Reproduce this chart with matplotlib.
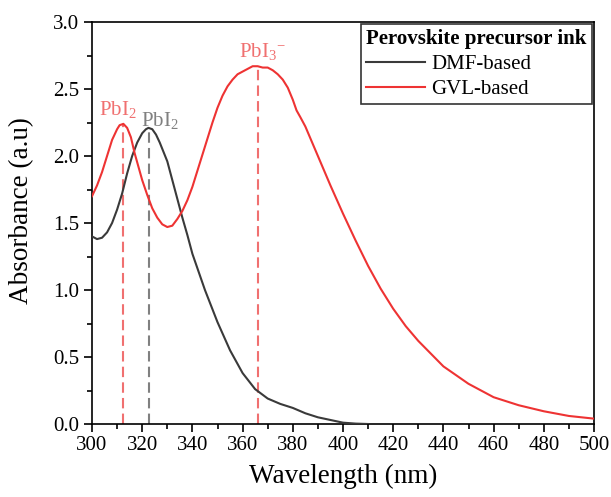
import matplotlib
matplotlib.use("Agg")
import matplotlib.pyplot as plt
from matplotlib.ticker import MultipleLocator

plt.rcParams['font.family'] = ['Liberation Serif', 'DejaVu Serif']
plt.rcParams['mathtext.fontset'] = 'custom'
plt.rcParams['mathtext.rm'] = 'Liberation Serif'
plt.rcParams['mathtext.it'] = 'Liberation Serif:italic'
plt.rcParams['mathtext.bf'] = 'Liberation Serif:bold'

# ---- data ----
dmf_wl = [300, 302, 304, 306, 308, 310, 312, 314, 316, 318, 320, 321.5, 322.5, 324, 325.5, 327,
          330, 332, 334, 336, 338, 340, 345, 350, 355, 360, 365, 370, 375, 380,
          385, 390, 395, 400, 405, 410]
dmf_abs = [1.40, 1.38, 1.39, 1.43, 1.50, 1.60, 1.72, 1.87, 2.00, 2.10, 2.17, 2.20, 2.21, 2.20, 2.16, 2.10,
           1.96, 1.82, 1.68, 1.54, 1.41, 1.27, 1.00, 0.76, 0.55, 0.38, 0.26, 0.19, 0.15, 0.12,
           0.08, 0.05, 0.03, 0.01, 0.003, 0.0]

gvl_wl = [300, 302, 304, 306, 308, 310, 311, 312.5, 314, 315.5, 317, 318.5, 320, 322, 324, 326, 328,
          330, 332, 334, 336, 338, 340, 342, 344, 346, 348, 350, 352, 354, 356, 358, 360, 362,
          364, 366, 368, 370, 372, 374, 376, 378, 380, 381.5, 383, 385,
          390, 395, 400, 405, 410, 415, 420, 425, 430, 440, 450, 460, 470, 480, 490, 500]
gvl_abs = [1.70, 1.78, 1.88, 2.00, 2.12, 2.20, 2.23, 2.24, 2.21, 2.14, 2.02, 1.92, 1.82, 1.71, 1.61, 1.54, 1.49,
           1.47, 1.48, 1.53, 1.59, 1.67, 1.77, 1.89, 2.01, 2.13, 2.25, 2.36, 2.45, 2.52, 2.57, 2.61, 2.63, 2.65,
           2.67, 2.67, 2.66, 2.66, 2.64, 2.61, 2.57, 2.51, 2.42, 2.34, 2.29, 2.22,
           2.00, 1.78, 1.57, 1.37, 1.18, 1.01, 0.86, 0.73, 0.62, 0.43, 0.30, 0.20, 0.14, 0.095, 0.06, 0.04]

peak_labels = ["PbI$_2$", "PbI$_2$", "PbI$_3$$^{-}$"]
peak_wl = [312.5, 322.8, 366.0]
peak_abs = [2.23, 2.21, 2.67]
peak_text_wl = [310.4, 327.0, 367.7]
peak_text_abs = [2.27, 2.19, 2.70]
peak_colors = ['#f07070', '#808080', '#f07070']

legend_title = "Perovskite precursor ink"
series_names = ["DMF-based", "GVL-based"]

# ---- figure ----
fig = plt.figure(figsize=(6.11, 4.97), dpi=100)
ax = fig.add_axes([92/611, 1-424/497, 502/611, 402/497])

ax.plot(dmf_wl, dmf_abs, color='#3a3a3a', lw=1.5, label=series_names[0], zorder=3)
ax.plot(gvl_wl, gvl_abs, color='#ee3333', lw=1.5, label=series_names[1], zorder=3)

for lab, w, a, tw, ta, c in zip(peak_labels, peak_wl, peak_abs, peak_text_wl, peak_text_abs, peak_colors):
    ax.plot([w, w], [0, a], color=c, lw=1.5, dashes=(5, 2.5), zorder=2)
    ax.text(tw, ta, lab, color=c, fontsize=15, ha='center', va='bottom')

ax.set_xlim(300, 500)
ax.set_ylim(0, 3.0)
ax.xaxis.set_major_locator(MultipleLocator(20))
ax.xaxis.set_minor_locator(MultipleLocator(10))
ax.yaxis.set_major_locator(MultipleLocator(0.5))
ax.yaxis.set_minor_locator(MultipleLocator(0.25))
ax.yaxis.set_major_formatter(matplotlib.ticker.FormatStrFormatter('%.1f'))
ax.tick_params(which='major', direction='out', length=6, width=1.2, labelsize=15,
               top=False, right=False, pad=3)
ax.tick_params(which='minor', direction='out', length=3.5, width=1.2, top=False, right=False)
for s in ax.spines.values():
    s.set_linewidth(1.2)

ax.set_xlabel("Wavelength (nm)", fontsize=19.5, labelpad=6)
ax.set_ylabel("Absorbance (a.u)", fontsize=19.5)
ax.yaxis.set_label_coords(-0.115, 0.53)

leg = ax.legend(title=legend_title, loc='upper right', bbox_to_anchor=(0.996, 0.995),
                fontsize=15, title_fontproperties={'weight': 'bold', 'size': 15},
                frameon=True, fancybox=False, framealpha=1, edgecolor='#333333',
                handlelength=2.8, handletextpad=0.3, borderpad=0.25, labelspacing=0.25,
                borderaxespad=0)
leg.get_frame().set_linewidth(1.2)
leg._legend_box.align = "left"

fig.savefig("out.png", dpi=100)
